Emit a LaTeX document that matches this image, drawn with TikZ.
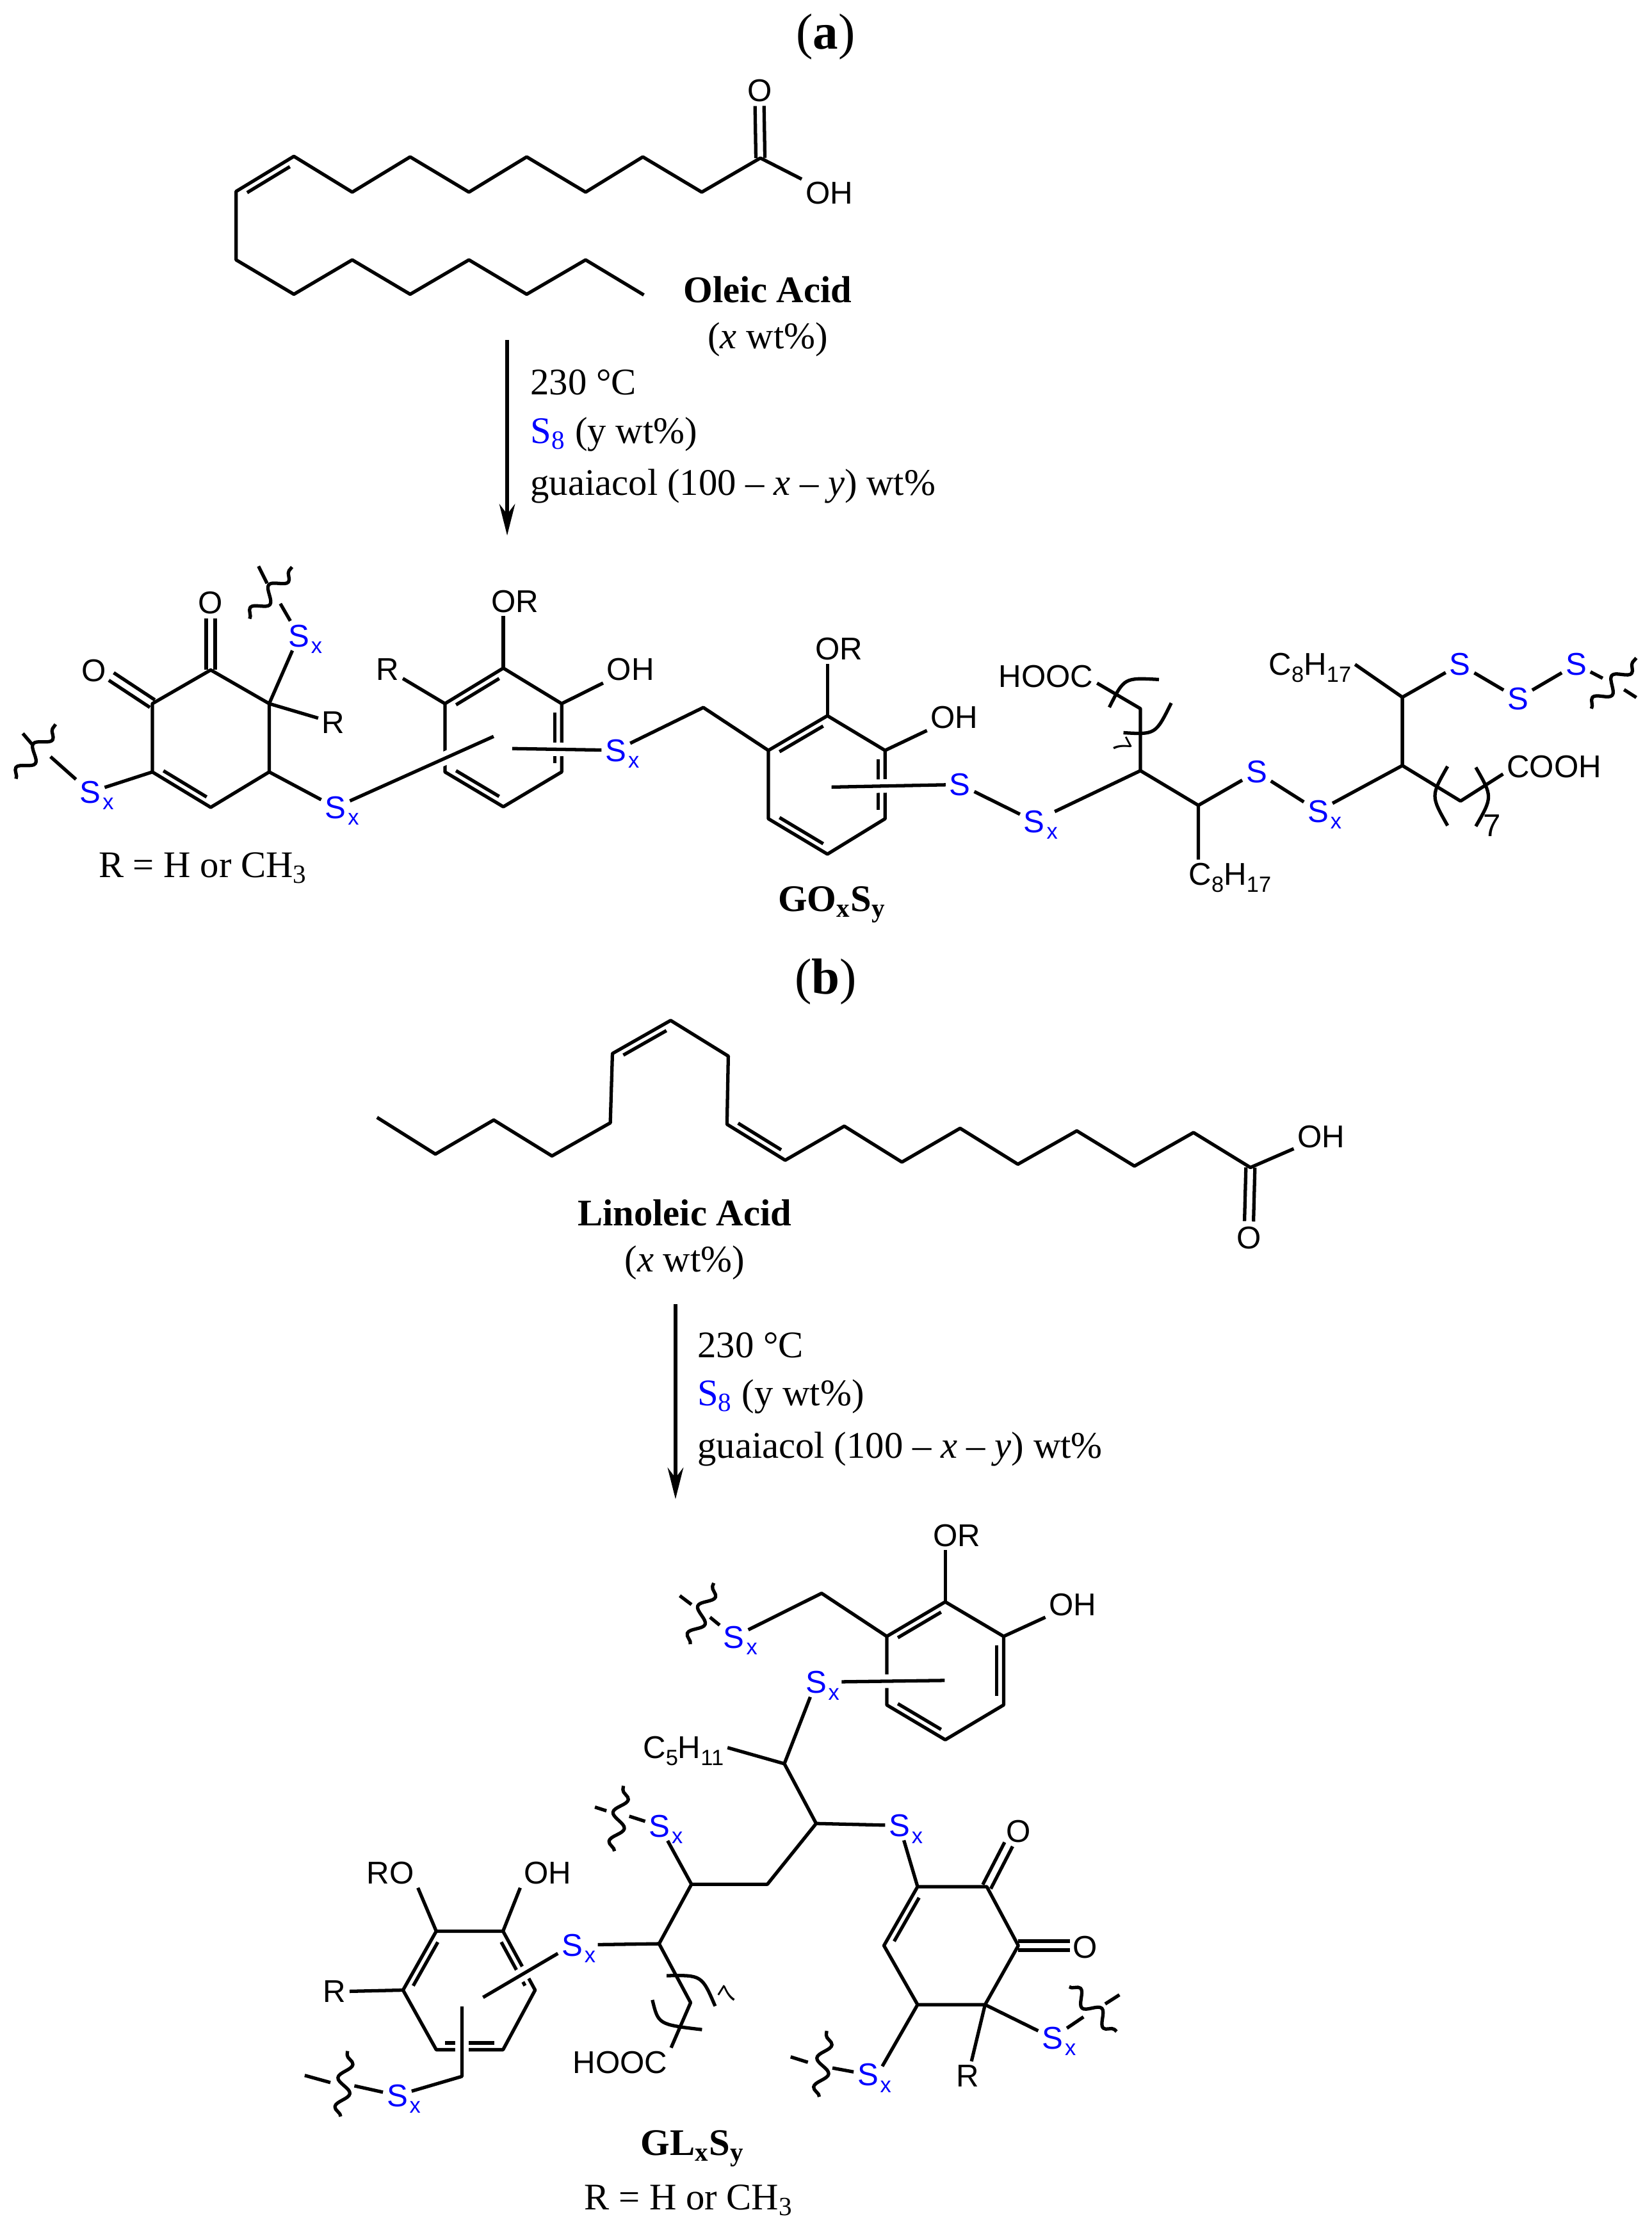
\documentclass[tikz,border=0pt]{standalone}
\usepackage{fontspec}
\setmainfont{Liberation Serif}
\newfontfamily\chem{Liberation Sans}
\usetikzlibrary{calc,arrows.meta,decorations.pathmorphing}
\definecolor{sblue}{RGB}{0,0,255}
\newcommand\sbsc[1]{\raisebox{-3pt}{\fontsize{9.8pt}{10pt}\selectfont #1}}
\newcommand\Sx{S\rlap{\kern.8pt\sbsc{x}}}
\newcommand\Cs[2]{C\sbsc{#1}H\sbsc{#2}}
\newcommand\dbl[3]{\draw[bond] ($(#1)!0.13!(#2)!3pt!#3:(#2)$) -- ($(#1)!0.87!(#2)!3pt!#3:(#2)$);}
\newcommand\dbs[2]{\draw[bond] ($(#1)!2pt!90:(#2)$) -- ($(#2)!2pt!-90:(#1)$);\draw[bond] ($(#1)!2pt!-90:(#2)$) -- ($(#2)!2pt!90:(#1)$);}
\tikzset{
 x=0.02228cm,y=-0.02228cm,
 bond/.style={line width=1.5pt,line join=round},
 halo/.style={bond,preaction={draw,white,line width=6pt}},
 wavy/.style={bond,decorate,decoration={snake,segment length=13pt,amplitude=3pt}},
 lbl/.style={font=\chem\fontsize{14pt}{15pt}\selectfont,inner sep=1.5pt,text depth=0pt},
 slbl/.style={lbl,text=sblue},
 rot/.style={font=\chem\fontsize{11pt}{12pt}\selectfont,inner sep=0pt},
 txt/.style={font=\fontsize{16.7pt}{18pt}\selectfont,anchor=base,inner sep=0pt},
 cond/.style={font=\fontsize{16.7pt}{18pt}\selectfont,anchor=base west,inner sep=0pt},
 ttl/.style={font=\fontsize{22.5pt}{24pt}\selectfont,anchor=base,inner sep=0pt},
 rxn/.style={line width=1.5pt,-{Stealth[length=14pt,width=7pt]}},
}
\begin{document}
\begin{tikzpicture}
\useasboundingbox (0,0) rectangle (1158,1566.9);
\fill[white] (0,0) rectangle (1158,1566.9);

% ---------- titles and texts
\node[ttl] (ta) at (578.8,34.5) {(\textbf{a})};
\node[ttl] (tb) at (578.7,697) {(\textbf{b})};
\node[txt] (oa) at (538.2,212.2) {\textbf{Oleic Acid}};
\node[txt] (oax) at (538.2,244.5) {(\textit{x} wt\%)};
\node[cond] (c1a) at (371.6,276.5) {230 °C};
\node[cond] (c2a) at (371.6,310.7) {\textcolor{sblue}{S\textsubscript{8}} (y wt\%)};
\node[cond] (c3a) at (371.6,347) {guaiacol (100 – \textit{x} – \textit{y}) wt\%};
\node[txt] (ra) at (142.3,615.3) {R = H or CH\textsubscript{3}};
\node[txt] (goxsy) at (583.2,638.7) {\textbf{GO\textsubscript{x}S\textsubscript{y}}};
\node[txt] (la) at (479.9,859.5) {\textbf{Linoleic Acid}};
\node[txt] (lax) at (479.9,891.8) {(\textit{x} wt\%)};
\node[cond] (c1b) at (488.6,951.9) {230 °C};
\node[cond] (c2b) at (488.6,985.5) {\textcolor{sblue}{S\textsubscript{8}} (y wt\%)};
\node[cond] (c3b) at (488.6,1022) {guaiacol (100 – \textit{x} – \textit{y}) wt\%};
\node[txt] (glxsy) at (485.5,1510.8) {\textbf{GL\textsubscript{x}S\textsubscript{y}}};
\node[txt] (rb) at (482.7,1549) {R = H or CH\textsubscript{3}};

% ---------- reaction arrows
\coordinate (ar1s) at (355.5,238.3); \coordinate (ar1e) at (355.5,375.4);
\coordinate (ar2s) at (473.5,914.2); \coordinate (ar2e) at (473.5,1051);
\draw[rxn] (ar1s) -- (ar1e);
\draw[rxn] (ar2s) -- (ar2e);

% ---------- oleic acid
\node[lbl] (oO) at (532.4,63.3) {O};
\node[lbl] (oOH) at (581.2,135.4) {OH};
\coordinate (oOe) at (532.4,74.3);
\draw[bond] (oOH) -- (533,110.8) coordinate (o1) -- (491.9,134.7) -- (450.6,110) -- (410.5,134.7) -- (369.2,110) -- (328.7,134.7) -- (287.5,110) -- (246.9,134.7) -- (206,109.6) coordinate (o9) -- (165.5,134.2) coordinate (o10) -- (165.5,182.2) -- (206,206.3) -- (246.9,182.2) -- (287.5,206.3) -- (328.7,182.2) -- (369.2,206.3) -- (410.5,182.2) -- (451.3,206.8);
\dbs{o1}{oOe}
\dbl{o9}{o10}{90}

% ---------- linoleic acid
\node[lbl] (lO) at (875.5,867.8) {O};
\node[lbl] (lOH) at (926.1,797) {OH};
\coordinate (lOe) at (875.5,856.2);
\draw[bond] (264.3,783.4) -- (305.2,809.1) -- (346.1,785.2) -- (386.9,810.4) -- (427.8,787.2) -- (429.3,738.6) coordinate (l1) -- (470.1,715.4) coordinate (l2) -- (510.5,740.4) -- (509.6,788.2) coordinate (l3) -- (550.4,813.4) coordinate (l4) -- (591.8,789.5) -- (632.2,814.7) -- (673,791) -- (713.5,816.2) -- (754.8,792.8) -- (795.2,817.5) -- (836.6,794) -- (876.5,818.5) coordinate (lC) -- (lOH);
\dbs{lC}{lOe}
\dbl{l1}{l2}{-90}
\dbl{l3}{l4}{90}

% ---------- GOxSy : quinone ring
\coordinate (a1) at (147.7,469.7); \coordinate (a2) at (188.7,493.3); \coordinate (a3) at (188.7,541.2);
\coordinate (a4) at (147.7,566); \coordinate (a5) at (106.8,541.2); \coordinate (a6) at (106.8,493.3);
\node[lbl] (aO1) at (147.7,422.7) {O};
\node[lbl] (aO2) at (65.9,470.2) {O};
\coordinate (aO1e) at (147.7,433.8); \coordinate (aO2e) at (78,474.3);
\node[lbl] (aR) at (233.7,506.6) {R};
\node[slbl] (S0) at (209.5,445.7) {\Sx};
\node[slbl] (S1) at (63.3,555.3) {\Sx};
\node[slbl] (S2) at (235.2,566) {\Sx};
\draw[bond] (a1) -- (a2) -- (a3) -- (a4) -- (a5) -- (a6) -- cycle;
\dbl{a4}{a5}{-90}
\dbs{a1}{aO1e}
\dbs{a6}{aO2e}
\draw[bond] (a2) -- (aR);
\draw[bond] (a2) -- (S0);
\draw[bond] (a3) -- (S2);
\draw[bond] (a5) -- (S1);
% wavy ends
\coordinate (w0) at (196.5,423.2); \coordinate (w0a) at (175,433.8); \coordinate (w0b) at (204.7,397.5); \coordinate (w0c) at (187.2,409); \coordinate (w0d) at (181.2,397);
\draw[bond] (S0) -- (w0); \draw[wavy] (w0a) -- (w0b); \draw[bond] (w0c) -- (w0d);
\coordinate (w1) at (35.4,530.5); \coordinate (w1a) at (11.2,546); \coordinate (w1b) at (39,507.8); \coordinate (w1c) at (22.3,521.6); \coordinate (w1d) at (16,514.2);
\draw[bond] (S1) -- (w1); \draw[wavy] (w1a) -- (w1b); \draw[bond] (w1c) -- (w1d);

% ---------- GOxSy : second ring
\coordinate (b1) at (352.8,468.4); \coordinate (b2) at (393.7,493.3); \coordinate (b3) at (393.7,541.2);
\coordinate (b4) at (352.8,565.6); \coordinate (b5) at (311.9,541.2); \coordinate (b6) at (311.9,493.3);
\node[lbl] (bOR) at (361,421.4) {OR};
\node[lbl] (bOH) at (442,469.3) {OH};
\node[lbl] (bR) at (271.7,469.3) {R};
\node[slbl] (S3) at (431.7,526) {\Sx};
\draw[bond] (b1) -- (b2) -- (b3) -- (b4) -- (b5) -- (b6) -- cycle;
\dbl{b6}{b1}{-90}
\dbl{b2}{b3}{-90}
\dbl{b4}{b5}{-90}
\draw[bond] (b1) -- (b1 |- bOR.south);
\draw[bond] (b2) -- (bOH);
\draw[bond] (b6) -- (bR);
\coordinate (be) at (346,516.3); \coordinate (bf) at (359,524.8);
\draw[halo] (S2) -- (be);
\draw[halo] (S3) -- (bf);
\coordinate (m0) at (493,496);

% ---------- GOxSy : third ring
\coordinate (c1) at (580,501.8); \coordinate (c2) at (620.4,526.1); \coordinate (c3) at (620.4,574);
\coordinate (c4) at (580,598.8); \coordinate (c5) at (538.6,574); \coordinate (c6) at (538.6,526.1);
\node[lbl] (cOR) at (588,455) {OR};
\node[lbl] (cOH) at (669,503) {OH};
\node[slbl] (S4) at (672.9,550) {S};
\node[slbl] (S5) at (725,575.8) {\Sx};
\draw[bond] (S3) -- (m0) -- (c6);
\draw[bond] (c1) -- (c2) -- (c3) -- (c4) -- (c5) -- (c6) -- cycle;
\dbl{c6}{c1}{-90}
\dbl{c2}{c3}{-90}
\dbl{c4}{c5}{-90}
\draw[bond] (c1) -- (c1 |- cOR.south);
\draw[bond] (c2) -- (cOH);
\coordinate (cf) at (582.9,551.8);
\draw[halo] (S4) -- (cf);
\draw[bond] (S4) -- (S5);

% ---------- GOxSy : chain
\coordinate (A) at (799.4,540.3); \coordinate (A2) at (799.4,496.8); \coordinate (B) at (840,564.6);
\coordinate (C) at (983,536.7); \coordinate (D) at (983,488.8); \coordinate (E) at (1023.8,561.6);
\node[lbl] (HOa) at (733.2,473.9) {HOOC};
\node[lbl] (C8a) at (862.2,613) {\Cs{8}{17}};
\node[lbl] (C8b) at (918.3,465.8) {\Cs{8}{17}};
\node[lbl] (COa) at (1089.4,537.6) {COOH};
\node[slbl] (S6) at (880.8,541.2) {S};
\node[slbl] (S7) at (924,568.6) {\Sx};
\node[slbl] (S8) at (1023.4,465.8) {S};
\node[slbl] (S9) at (1064,489.7) {S};
\node[slbl] (S10) at (1104.8,465.8) {S};
\draw[bond,shorten <=3pt] (S5) -- (A);
\draw[bond] (A) -- (A2) -- (HOa.-8);
\draw[bond] (A) -- (B) -- (B |- C8a.north);
\draw[bond] (B) -- (S6);
\draw[bond] (S6) -- (S7);
\draw[bond] (S7) -- (C);
\draw[bond] (C) -- (D) -- (C8b.east);
\draw[bond] (D) -- (S8);
\draw[bond] (S8) -- (S9);
\draw[bond] (S9) -- (S10);
\draw[bond] (C) -- (E) -- (COa.188);
\coordinate (w2) at (1123.4,475.5); \coordinate (w2a) at (1115.5,496.8); \coordinate (w2b) at (1147,461.3); \coordinate (w2c) at (1138.4,483.5); \coordinate (w2d) at (1147,489);
\draw[bond] (S10) -- (w2); \draw[wavy] (w2a) -- (w2b); \draw[bond] (w2c) -- (w2d);
% brackets
\coordinate (p1a) at (777.6,495.9); \coordinate (p1b) at (812.4,476.4); \coordinate (p1c) at (788,475);
\coordinate (p2a) at (787.5,513.7); \coordinate (p2b) at (821,492.9); \coordinate (p2c) at (810,515);
\draw[bond] (p1a) .. controls (p1c) .. (p1b);
\draw[bond] (p2a) .. controls (p2c) .. (p2b);
\node[rot,rotate=-62] (n7a) at (786.5,522.9) {7};
\coordinate (p3a) at (1014.7,537.3); \coordinate (p3b) at (1014.7,578.8); \coordinate (p3c) at (1002.9,558);
\coordinate (p4a) at (1034.5,538); \coordinate (p4b) at (1034.5,579.3); \coordinate (p4c) at (1046.3,558.6);
\draw[bond] (p3a) .. controls (p3c) .. (p3b);
\draw[bond] (p4a) .. controls (p4c) .. (p4b);
\node[lbl] (n7b) at (1046,579) {7};

% ---------- GLxSy : top ring
\coordinate (g1) at (662.6,1123); \coordinate (g2) at (703.5,1147.2); \coordinate (g3) at (703.5,1195.3);
\coordinate (g4) at (662.6,1219.7); \coordinate (g5) at (621.6,1195.3); \coordinate (g6) at (621.6,1147.2);
\coordinate (H1) at (575.9,1117);
\node[lbl] (gOR) at (670.8,1076.3) {OR};
\node[lbl] (gOH) at (752,1125) {OH};
\node[slbl] (S11) at (514.5,1147.6) {\Sx};
\node[slbl] (S12) at (572,1179.3) {\Sx};
\draw[bond] (g1) -- (g2) -- (g3) -- (g4) -- (g5) -- (g6) -- cycle;
\dbl{g6}{g1}{-90}
\dbl{g2}{g3}{-90}
\dbl{g4}{g5}{-90}
\draw[bond] (g1) -- (g1 |- gOR.south);
\draw[bond] (g2) -- (gOH);
\draw[bond] (g6) -- (H1) -- (S11);
\coordinate (gf) at (662.2,1178.1);
\draw[halo,shorten <=5pt] (S12) -- (gf);
\coordinate (w3) at (497.7,1133.8); \coordinate (w3a) at (483.9,1152.7); \coordinate (w3b) at (500.3,1109.8); \coordinate (w3c) at (476.5,1118.7); \coordinate (w3d) at (484.7,1124.9);
\draw[bond] (S11) -- (w3); \draw[wavy] (w3a) -- (w3b); \draw[bond] (w3c) -- (w3d);

% ---------- GLxSy : chain
\coordinate (n1) at (549.8,1236.5); \coordinate (n2) at (572.1,1278.4); \coordinate (n3) at (537.9,1321);
\coordinate (n4) at (484.7,1321); \coordinate (n5) at (462,1362.7); \coordinate (n6) at (484.1,1404);
\node[lbl] (C5) at (479,1225.2) {\Cs{5}{11}};
\node[lbl] (HOb) at (434.6,1446) {HOOC};
\node[slbl] (S13) at (630.5,1279.8) {\Sx};
\node[slbl] (S14) at (462.3,1280.1) {\Sx};
\draw[bond] (S12) -- (n1) -- (C5.east);
\draw[bond] (n1) -- (n2) -- (n3) -- (n4) -- (n5) -- (n6) -- (HOb.north east);
\draw[bond] (n2) -- (S13);
\draw[bond] (n4) -- (S14);
\coordinate (w4) at (441.1,1273.3); \coordinate (w4a) at (430.7,1297.8); \coordinate (w4b) at (437,1252); \coordinate (w4c) at (425.1,1269.5); \coordinate (w4d) at (417,1266.9);
\draw[bond] (S14) -- (w4); \draw[wavy] (w4a) -- (w4b); \draw[bond] (w4c) -- (w4d);
\coordinate (p5a) at (467.3,1385.1); \coordinate (p5b) at (501.3,1406.4); \coordinate (p5c) at (491.9,1384.6);
\coordinate (p6a) at (457.3,1402.1); \coordinate (p6b) at (492.1,1422.9); \coordinate (p6c) at (461.5,1419.3);
\draw[bond] (p5a) .. controls (p5c) .. (p5b);
\draw[bond] (p6a) .. controls (p6c) .. (p6b);
\node[rot,rotate=58] (n7c) at (510.3,1398.1) {7};

% ---------- GLxSy : quinone ring
\coordinate (q1) at (643.2,1322.7); \coordinate (q2) at (691.7,1322.7); \coordinate (q3) at (713.8,1364);
\coordinate (q4) at (690.5,1405.4); \coordinate (q5) at (643.2,1405.4); \coordinate (q6) at (619.6,1364);
\node[lbl] (qO1) at (713.8,1283.8) {O};
\node[lbl] (qO2) at (760.7,1365) {O};
\node[lbl] (qR) at (678.5,1455.4) {R};
\node[slbl] (S15) at (608.4,1454.4) {\Sx};
\node[slbl] (S16) at (737.8,1428.7) {\Sx};
\coordinate (qO1e) at (707,1293); \coordinate (qO2e) at (749.8,1364);
\draw[bond] (q1) -- (q2) -- (q3) -- (q4) -- (q5) -- (q6) -- cycle;
\dbl{q6}{q1}{-90}
\dbs{q2}{qO1e}
\dbs{q3}{qO2e}
\draw[bond] (S13) -- (q1);
\draw[bond] (q4) -- (qR);
\draw[bond] (q4) -- (S16);
\draw[bond] (q5) -- (S15.30);
\coordinate (w5) at (583.5,1449.8); \coordinate (w5a) at (574.3,1470); \coordinate (w5b) at (579.5,1423.8); \coordinate (w5c) at (566.3,1445.8); \coordinate (w5d) at (554.2,1442);
\draw[bond] (S15) -- (w5); \draw[wavy] (w5a) -- (w5b); \draw[bond] (w5c) -- (w5d);
\coordinate (w6) at (759.5,1414); \coordinate (w6a) at (749.5,1392.9); \coordinate (w6b) at (782.7,1424.2); \coordinate (w6c) at (774.7,1404.9); \coordinate (w6d) at (784.7,1398.5);
\draw[bond] (S16) -- (w6); \draw[wavy] (w6a) -- (w6b); \draw[bond] (w6c) -- (w6d);

% ---------- GLxSy : left ring
\coordinate (l11) at (305.8,1353.9); \coordinate (l12) at (352.6,1353.9); \coordinate (l13) at (375.1,1395.2);
\coordinate (l14) at (352.6,1437); \coordinate (l15) at (305.8,1437); \coordinate (l16) at (282.5,1395.2);
\node[lbl] (lRO) at (273.7,1313.1) {RO};
\node[lbl] (lOH2) at (383.9,1313.1) {OH};
\node[lbl] (lR) at (234.4,1396.3) {R};
\node[slbl] (S17) at (401.1,1363.6) {\Sx};
\node[slbl] (S18) at (278.5,1469) {\Sx};
\draw[bond] (l11) -- (l12) -- (l13) -- (l14) -- (l15) -- (l16) -- cycle;
\dbl{l16}{l11}{-90}
\dbl{l12}{l13}{-90}
\dbl{l14}{l15}{-90}
\draw[bond] (l11) -- (lRO.south east);
\draw[bond] (l12) -- (lOH2.south west);
\draw[bond] (l16) -- (lR);
\coordinate (lf) at (338.6,1400.3); \coordinate (v1) at (323.8,1406.7); \coordinate (v2) at (323.8,1455.7);
\draw[halo] (S17) -- (lf);
\draw[bond,shorten <=5pt] (S17) -- (n5);
\draw[halo] (v1) -- (v2) -- (S18);
\coordinate (w7) at (248.4,1462.3); \coordinate (w7a) at (238.8,1483.8); \coordinate (w7b) at (243.6,1437.9); \coordinate (w7c) at (231.6,1460); \coordinate (w7d) at (213.6,1455);
\draw[bond] (S18) -- (w7); \draw[wavy] (w7a) -- (w7b); \draw[bond] (w7c) -- (w7d);
\end{tikzpicture}
\end{document}
